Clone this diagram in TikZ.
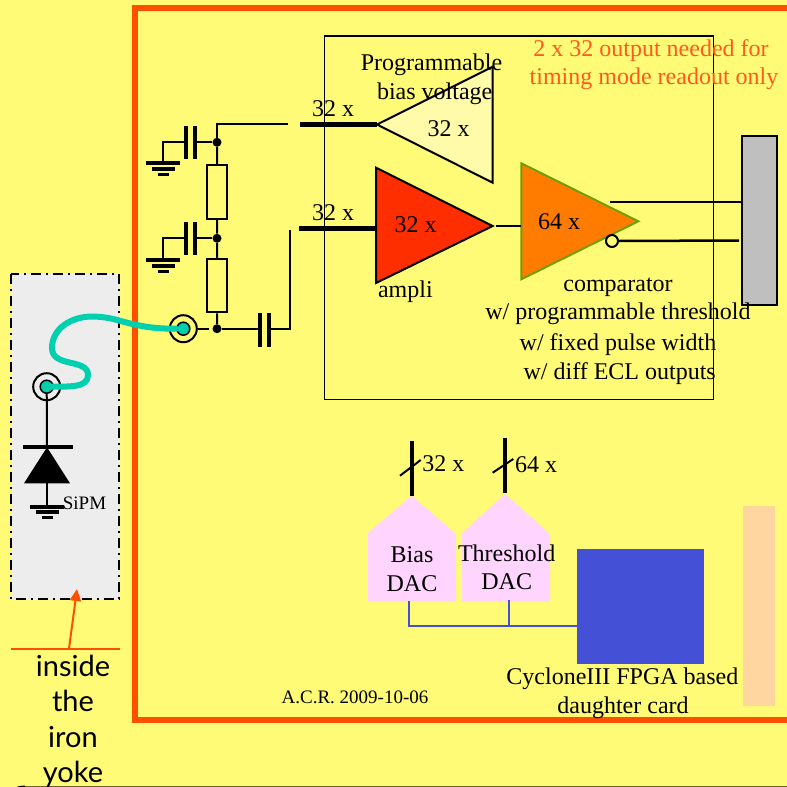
\documentclass[tikz,border=0pt]{standalone}
\usepackage{fontspec}
\setmainfont{Liberation Serif}
\newfontfamily\handfont{Lato}
\usetikzlibrary{calc,arrows.meta}
\definecolor{PageYellow}{HTML}{FFFB77}
\definecolor{FrameOrange}{HTML}{FF5000}
\definecolor{NoteOrange}{HTML}{FF5A1E}
\definecolor{CableTeal}{HTML}{00D0AE}
\definecolor{BiasYellow}{HTML}{FFFBA8}
\definecolor{AmpliRed}{HTML}{FF2E00}
\definecolor{CompOrange}{HTML}{FF7C00}
\definecolor{CompEdge}{HTML}{6F9F00}
\definecolor{DacPink}{HTML}{FFD5FF}
\definecolor{FpgaBlue}{HTML}{4450D6}
\definecolor{CardPeach}{HTML}{FFD5A0}
\tikzset{
  txt/.style={inner sep=0pt,text height=15pt,text depth=4pt,font=\fontsize{24}{24}\selectfont},
  smalltxt/.style={inner sep=0pt,font=\fontsize{19}{19}\selectfont},
  handtxt/.style={inner sep=0pt,text height=19pt,text depth=6pt,font=\handfont\fontsize{29}{29}\selectfont},
  wire/.style={line width=2pt},
  bus/.style={line width=5pt},
  dot/.style={circle,fill=black,inner sep=0pt,minimum size=9pt},
  plate/.style={line width=4pt},
  coaxring/.style={circle,draw,line width=2pt,fill=none,inner sep=0pt,minimum size=27pt},
  coaxpin/.style={circle,draw,line width=1.5pt,fill=CableTeal,inner sep=0pt,minimum size=13pt},
  gnd/.pic={
    \draw[line width=4pt] (-17,0) -- (17,0);
    \draw[line width=3.5pt] (-11.5,5.5) -- (11.5,5.5);
    \draw[line width=3.5pt] (-5.5,11) -- (5.5,11);
  }
}
\begin{document}
\begin{tikzpicture}[x=1pt,y=-1pt]
\useasboundingbox (0,0) rectangle (787,787);
\fill[white] (0,0) rectangle (787,787);
% page with its rounded corner
\fill[PageYellow] (0,0) -- (787,0) -- (787,787) -- (25,787) arc (270:180:25) -- cycle;
\draw[line width=3pt] (25,787) arc (270:180:25);
\draw[line width=1pt,black!60!PageYellow] (25,786.5) -- (787,786.5);
\draw[FrameOrange,line width=6pt] (790,8) -- (135,8) -- (135,720) -- (790,720);
\draw[wire,line width=1.8pt] (324.5,36) rectangle (713.5,399.5);
% SiPM box
\draw[fill=black!7,line width=2pt,dash pattern=on 10pt off 5pt on 2pt off 5pt] (10.7,274.3) rectangle (118.7,599.3);
\coordinate (arrowfoot) at (69,648.5);
\coordinate (arrowhead) at (77,589);
\draw[FrameOrange,line width=2pt] (11,648.5) -- (119.5,648.5);
\draw[FrameOrange,line width=2pt,-{Triangle[length=12pt,width=11pt]}] (arrowfoot) -- (arrowhead);
\node[handtxt] (inside) at (73,670) {inside};
\node[handtxt] (the) at (73,705) {the};
\node[handtxt] (iron) at (73,741) {iron};
\node[handtxt] (yoke) at (73,776) {yoke};
% diode
\node[coaxring] (sipmcoax) at (46.7,386.7) {};
\coordinate (diodetop) at (47,447.3);
\coordinate (diodebase) at (47,483.3);
\coordinate (sipmgnd) at (47,506.7);
\draw[wire] (sipmcoax.center) -- (diodetop);
\draw[plate] (23,447.3) -- (72.7,447.3);
\fill (diodetop) -- (70,483.3) -- (24,483.3) -- cycle;
\draw[wire] (diodebase) -- (sipmgnd);
\pic at (sipmgnd) [xscale=1] {gnd};
\node[smalltxt] (sipm) at (84.5,503) {SiPM};
% coax cable
\node[coaxring] (incoax) at (183.3,328.7) {};
\node[coaxpin] (sipmpin) at (sipmcoax) {};
\node[coaxpin] (inpin) at (incoax) {};
\draw[CableTeal,line width=6pt,line cap=round] (sipmpin.center) .. controls (70,386.5) and (88,388) .. (88,375)
  .. controls (88,358) and (52,368) .. (52,348)
  .. controls (52,328) and (72,316.5) .. (92,316.5)
  .. controls (120,316.5) and (130,329) .. (inpin.west);
% divider
\node[dot] (dotA) at (217,142.3) {};
\node[dot] (dotB) at (217,238.3) {};
\node[dot] (dotC) at (217,328.7) {};
\node[draw,wire,minimum width=20pt,minimum height=53.4pt,inner sep=0pt] (resA) at (217.3,192) {};
\node[draw,wire,minimum width=20pt,minimum height=53.3pt,inner sep=0pt] (resB) at (217.3,285.7) {};
\coordinate (topwire) at (288,124);
\coordinate (topcorner) at (217,124);
\draw[wire] (topwire) -- (topcorner) -- (dotA);
\draw[wire] (dotA) -- (resA);
\draw[wire] (resA) -- (dotB);
\draw[wire] (dotB) -- (resB);
\draw[wire] (resB) -- (dotC);
\foreach \n/\y/\g in {A/142.3/163.3,B/238.3/260.3}{
  \coordinate (capL\n) at (186,\y);
  \coordinate (capR\n) at (195.3,\y);
  \coordinate (gnd\n) at (163.3,\g);
  \draw[plate] (186,\y-16.5) -- (186,\y+17);
  \draw[plate] (195.3,\y-16.5) -- (195.3,\y+17);
  \draw[wire] (dot\n) -- (capR\n);
  \draw[wire] (capL\n) -| (gnd\n);
  \pic at (gnd\n) {gnd};
}
\coordinate (capLC) at (259.5,328.7);
\coordinate (capRC) at (269.3,328.7);
\coordinate (ampwire) at (290,230);
\coordinate (pinout) at (209,328.7);
\draw[wire] (incoax.east) -- (pinout);
\draw[wire] (dotC) -- (capLC);
\draw[plate] (259.5,313.3) -- (259.5,346.7);
\draw[plate] (269.3,313.3) -- (269.3,346.7);
\draw[wire] (capRC) -| (ampwire);
% amplifiers
\coordinate (biastip) at (377,124.5);
\coordinate (ampin) at (376,228);
\coordinate (amptip) at (492.7,226);
\coordinate (compin) at (521.3,226);
\coordinate (comptip) at (638.3,221.3);
\draw[bus] (300,124.5) -- (biastip);
\draw[bus] (299,228) -- (ampin);
\draw[wire,fill=BiasYellow] (biastip) -- (492.7,66.7) -- (492.7,182.7) -- cycle;
\draw[wire,fill=AmpliRed] (376,167.7) -- (amptip) -- (376,283) -- cycle;
\draw[wire,fill=CompOrange,draw=CompEdge] (compin |- 0,163.3) -- (comptip) -- (compin |- 0,279.3) -- cycle;
\draw[line width=2.5pt] (496,226) -- (compin);
% outputs
\node[draw,wire,fill=black!25,minimum width=34.8pt,minimum height=168.8pt,inner sep=0pt] (conn) at (759.1,220.1) {};
\node[circle,draw,wire,fill=none,inner sep=0pt,minimum size=12pt] (bubble) at (612,241) {};
\coordinate (outtop) at (610,202);
\coordinate (outbot) at (739,240.5);
\draw[line width=2.5pt] (outtop) -- (outtop -| conn.west);
\draw[line width=2.5pt] (bubble.east) -- (outbot);
% DACs
\fill[DacPink] (411.7,495.7) -- (456,534) -- (456,601.7) -- (368,601.7) -- (368,534) -- (366.7,534) -- cycle;
\fill[DacPink] (505,494) -- (550,534) -- (550,601.7) -- (462,601.7) -- (462,534) -- (461,534) -- cycle;
\fill[FpgaBlue] (577,549) rectangle (703.7,663.7);
\fill[CardPeach] (743,505.7) rectangle (774.6,706);
\coordinate (biasbus) at (411.7,441);
\coordinate (biasapex) at (411.7,495.7);
\coordinate (thrbus) at (505,438);
\coordinate (thrapex) at (505,492.5);
\draw[line width=4pt] (biasbus) -- (biasapex);
\draw[line width=4pt] (thrbus) -- (thrapex);
\draw[wire] (400,475.7) -- (420.7,460);
\draw[wire] (492.7,472.7) -- (513.3,459);
\coordinate (biasfoot) at (409.3,601);
\coordinate (thrfoot) at (509,600);
\coordinate (fpgaleft) at (577,625.7);
\draw[FpgaBlue,wire] (biasfoot) |- (fpgaleft);
\draw[FpgaBlue,wire] (thrfoot) -- (thrfoot |- fpgaleft);
% labels
\node[txt] (buslabA) at (333,111) {32 x};
\node[txt] (buslabB) at (333,215) {32 x};
\node[txt] (biaslab) at (448.7,131) {32 x};
\node[txt] (amplab) at (415.7,227) {32 x};
\node[txt] (complab) at (559,224) {64 x};
\node[txt] (progA) at (431.5,65) {Programmable};
\node[txt] (progB) at (434.7,94) {bias voltage};
\node[txt,text=NoteOrange] (noteA) at (651,51) {2 x 32 output needed for};
\node[txt,text=NoteOrange] (noteB) at (654,79) {timing mode readout only};
\node[txt] (ampli) at (405.4,292) {ampli};
\node[txt] (compA) at (618,286) {comparator};
\node[txt] (compB) at (618,314) {w/ programmable threshold};
\node[txt] (compC) at (618,345) {w/ fixed pulse width};
\node[txt] (compD) at (619.7,374) {w/ diff ECL outputs};
\node[txt] (dacbus) at (443.3,466) {32 x};
\node[txt] (thrlab) at (536,467) {64 x};
\node[txt] (biasdacA) at (412,557) {Bias};
\node[txt] (biasdacB) at (412,586) {DAC};
\node[txt] (thrdacA) at (506.7,556) {Threshold};
\node[txt] (thrdacB) at (506.7,584) {DAC};
\node[txt] (fpgaA) at (622.4,679) {CycloneIII FPGA based};
\node[txt] (fpgaB) at (623,708) {daughter card};
\node[smalltxt] (stamp) at (355,697) {A.C.R. 2009-10-06};
\end{tikzpicture}
\end{document}
